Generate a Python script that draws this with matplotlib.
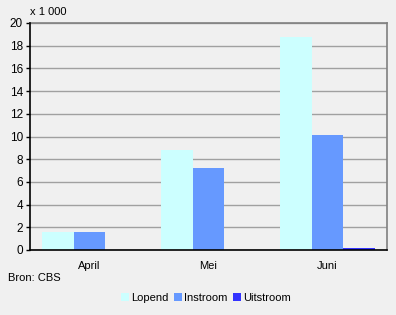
import matplotlib
matplotlib.use("Agg")
import matplotlib.pyplot as plt
import numpy as np

months = ["April", "Mei", "Juni"]
lopend = [1.6, 8.8, 18.8]
instroom = [1.6, 7.2, 10.15]
uitstroom = [0.0, 0.0, 0.2]

plt.rcParams.update({"font.family": "Liberation Sans", "font.size": 8})

W, H = 396, 315
fig = plt.figure(figsize=(W / 100, H / 100), dpi=100, facecolor="#f0f0f0")
ax = fig.add_axes([30 / W, 1 - 250 / H, 357 / W, 227 / H], facecolor="#f0f0f0")

x = np.arange(len(months))
bw = 0.265
series = [("Lopend", lopend, "#ccffff"),
          ("Instroom", instroom, "#6699ff"),
          ("Uitstroom", uitstroom, "#3333ff")]
for i, (name, vals, col) in enumerate(series):
    ax.bar(x + (i - 1) * bw, vals, bw, color=col, label=name, zorder=3)

ax.set_xlim(-0.5, 2.5)
ax.set_ylim(0, 20)
ax.set_yticks(range(0, 21, 2))
ax.set_xticks(x)
ax.set_xticklabels(months)
ax.yaxis.grid(True, color="#a0a0a0", linewidth=1, zorder=0)
ax.tick_params(axis="x", length=0, pad=8)
ax.tick_params(axis="y", length=3, width=1, color="black", pad=2, labelsize=8.5)
for s in ("left", "bottom"):
    ax.spines[s].set_color("black")
    ax.spines[s].set_linewidth(1.2)
for s in ("top", "right"):
    ax.spines[s].set_color("#808080")
    ax.spines[s].set_linewidth(1.2)
ax.spines["left"].set_zorder(4)
ax.spines["bottom"].set_zorder(4)

fig.text(30 / W, 1 - 12 / H, "x 1 000", ha="left", va="center", fontsize=8)
fig.text(8 / W, 1 - 278 / H, "Bron: CBS", ha="left", va="center", fontsize=8)

fig.legend(loc="center", bbox_to_anchor=(206 / W, 1 - 298 / H), ncol=3,
           frameon=False, handlelength=0.7, handleheight=0.7, handletextpad=0.2,
           columnspacing=0.5, fontsize=8)

fig.savefig("out.png", dpi=100, facecolor=fig.get_facecolor())
